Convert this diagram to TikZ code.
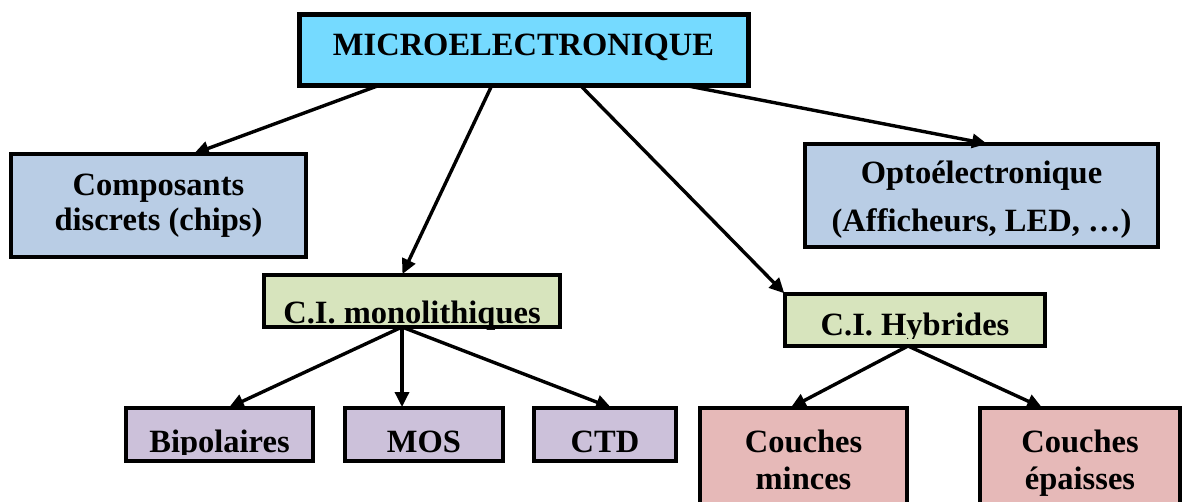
\documentclass[tikz,border=0pt]{standalone}
\usepackage{fontspec}
\setmainfont{Liberation Serif}
\usepackage{trimclip}
\usetikzlibrary{arrows.meta}
\definecolor{cyanbox}{RGB}{117,218,255}
\definecolor{bluebox}{RGB}{185,205,229}
\definecolor{greenbox}{RGB}{215,228,189}
\definecolor{purplebox}{RGB}{204,193,218}
\definecolor{pinkbox}{RGB}{230,185,184}
\tikzset{
  box/.style={draw=black, line width=4.5pt, inner sep=0pt, outer sep=0pt,
    font=\bfseries\fontsize{32.5}{35}\selectfont},
  multibox/.style={box, align=center},
  conn/.style={line width=3.4pt, -{Triangle[length=15pt,width=14pt]}, shorten >=1pt}
}
\begin{document}
\begin{tikzpicture}[x=1pt,y=-1pt]
\useasboundingbox (0,0) rectangle (1182,501);
\clip (0,0) rectangle (1182,501);
% boxes
\node[box, fill=cyanbox, minimum width=449pt, minimum height=71pt, text height=11pt, text depth=0pt, line width=5pt]
  (micro) at (523.5,49.5) {MICROELECTRONIQUE};
\node[multibox, fill=bluebox, minimum width=295pt, minimum height=103pt]
  (comp) at (158.5,205.5) {Composants\\discrets (chips)};
\node[multibox, fill=bluebox, minimum width=353pt, minimum height=103pt,
  font=\bfseries\fontsize{32.5}{48}\selectfont]
  (opto) at (981.5,195.5) {\rule{0pt}{31pt}Optoélectronique\\(Afficheurs, LED, …)};
\node[box, fill=greenbox, minimum width=296pt, minimum height=52pt, text height=44pt, text depth=0pt]
  (mono) at (412,301) {C.I. monolithiques};
\node[box, fill=greenbox, minimum width=260pt, minimum height=52pt, text height=30pt, text depth=0pt]
  (hyb) at (915,320) {\clipbox{0pt 3.5pt 0pt 0pt}{C.I. Hybrides}};
\node[box, fill=purplebox, minimum width=187pt, minimum height=53pt, text height=35pt, text depth=0pt]
  (bip) at (219.5,434.5) {\clipbox{0pt 4.5pt 0pt 0pt}{Bipolaires}};
\node[box, fill=purplebox, minimum width=158pt, minimum height=53pt, text height=35pt, text depth=0pt]
  (mos) at (424,434.5) {MOS};
\node[box, fill=purplebox, minimum width=142pt, minimum height=53pt, text height=35pt, text depth=0pt]
  (ctd) at (605,434.5) {CTD};
\node[multibox, fill=pinkbox, minimum width=207pt, minimum height=103pt,
  font=\bfseries\fontsize{32.5}{37}\selectfont]
  (minces) at (803.5,459.5) {Couches\\minces};
\node[multibox, fill=pinkbox, minimum width=200pt, minimum height=110pt,
  font=\bfseries\fontsize{32.5}{37}\selectfont]
  (epais) at (1080,463) {Couches\\épaisses};
% connectors
\draw[conn] ([xshift=81pt]micro.south west) -- ([xshift=182pt]comp.north west);
\draw[conn] ([xshift=193pt]micro.south west) -- ([xshift=138pt]mono.north west);
\draw[conn] ([xshift=281pt]micro.south west) -- (hyb.north west);
\draw[conn] ([xshift=384pt]micro.south west) -- ([xshift=183pt]opto.north west);
\draw[conn] ([xshift=138pt]mono.south west) -- ([xshift=102pt]bip.north west);
\draw[conn] ([xshift=138pt]mono.south west) -- ([xshift=57pt]mos.north west);
\draw[conn] ([xshift=138pt]mono.south west) -- ([xshift=78pt]ctd.north west);
\draw[conn] ([xshift=123pt]hyb.south west) -- ([xshift=90pt]minces.north west);
\draw[conn] ([xshift=123pt]hyb.south west) -- ([xshift=63pt]epais.north west);
\end{tikzpicture}
\end{document}
